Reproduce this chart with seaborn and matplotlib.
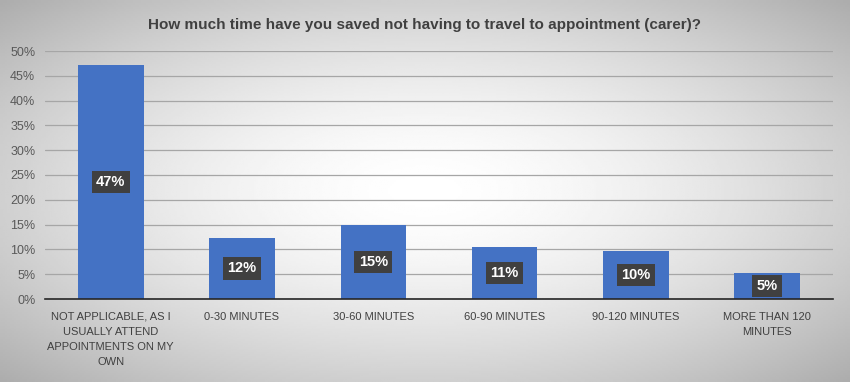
import matplotlib
matplotlib.use("Agg")
import matplotlib.pyplot as plt
import matplotlib.ticker as mtick
import numpy as np
import pandas as pd
import seaborn as sns

categories = ["NOT APPLICABLE, AS I\nUSUALLY ATTEND\nAPPOINTMENTS ON MY\nOWN",
              "0-30 MINUTES", "30-60 MINUTES", "60-90 MINUTES",
              "90-120 MINUTES", "MORE THAN 120\nMINUTES"]
values = [0.472, 0.123, 0.149, 0.105, 0.097, 0.052]
labels = ["47%", "12%", "15%", "11%", "10%", "5%"]

df = pd.DataFrame({"cat": categories, "val": values})

sns.set_style("white")
plt.rcParams['font.family'] = ['Liberation Sans', 'DejaVu Sans']

fig = plt.figure(figsize=(8.5, 3.82), dpi=100)

# radial grey background
bg = fig.add_axes([0, 0, 1, 1], zorder=-10)
yy, xx = np.mgrid[-1:1:200j, -1:1:400j]
r = np.sqrt((xx * 0.9) ** 2 + (yy * 0.9) ** 2)
bg.imshow(1 - 0.22 * np.clip(r, 0, 1.3) ** 1.6, cmap="gray", vmin=0, vmax=1,
          aspect="auto", extent=[0, 1, 0, 1])
bg.axis("off")

ax = fig.add_axes([45 / 850, 1 - 299 / 382, 788 / 850, 248 / 382])
ax.patch.set_alpha(0)
sns.barplot(data=df, x="cat", y="val", color="#4472C4", width=0.5,
            saturation=1, linewidth=0, ax=ax, zorder=3)

ax.set_ylim(0, 0.5)
ax.set_xlim(-0.5, 5.5)
ax.yaxis.set_major_locator(mtick.MultipleLocator(0.05))
ax.yaxis.set_major_formatter(mtick.PercentFormatter(1.0, decimals=0))
ax.grid(axis="y", color="#A6A6A6", linewidth=0.9, zorder=0)
for s in ["top", "right", "left"]:
    ax.spines[s].set_visible(False)
ax.spines["bottom"].set_color("#262626")
ax.spines["bottom"].set_linewidth(1.2)
ax.spines["bottom"].set_zorder(4)
ax.tick_params(axis="y", length=0, labelsize=9, labelcolor="#595959", pad=7)
ax.set_xticks(np.arange(6))
ax.set_xticklabels(categories, fontsize=8, color="#404040", linespacing=1.65)
ax.tick_params(axis="x", length=0, pad=9)
ax.set_xticks(np.arange(-0.5, 6, 1), minor=True)
ax.tick_params(axis="x", which="minor", length=5, width=1.2, color="#262626", direction="out")
ax.set_xlabel("")
ax.set_ylabel("")

for i, (v, lab) in enumerate(zip(values, labels)):
    ax.text(i, v / 2, lab, ha="center", va="center", color="white", fontsize=10.5,
            fontweight="bold", zorder=5,
            bbox=dict(boxstyle="square,pad=0.3", fc="#404040", ec="none"))

fig.text(0.5, 1 - 25 / 382, "How much time have you saved not having to travel to appointment (carer)?",
         ha="center", va="center", fontsize=11, fontweight="bold", color="#404040")

fig.savefig("out.png", dpi=100)
